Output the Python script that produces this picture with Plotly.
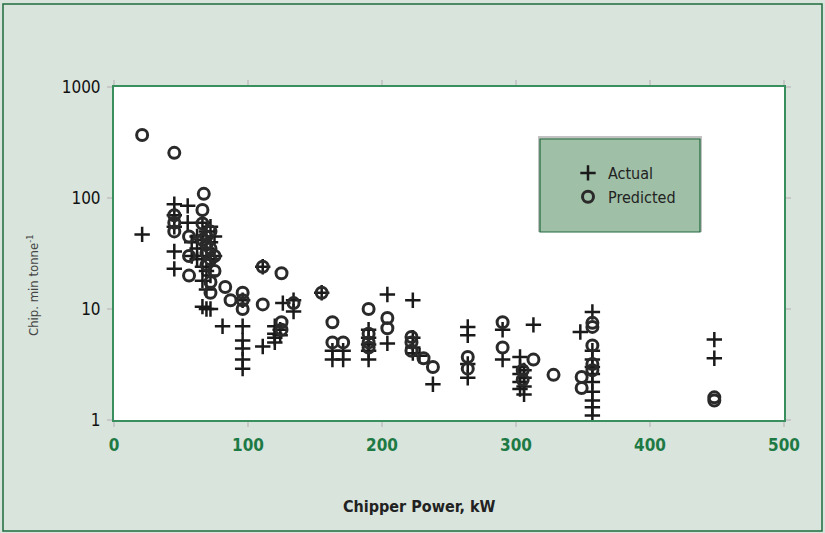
import plotly.graph_objects as go

# ---- data ----
actual_x = [21,
            45, 45, 45, 45, 45,
            55, 55, 58, 58,
            62, 62, 62,
            66, 66, 66, 66, 66, 66,
            69, 69, 69, 69, 69,
            72, 72, 72, 72, 72,
            75, 75,
            81,
            96, 96, 96, 96, 96, 96,
            111, 111,
            120, 120, 120, 120, 124, 124, 126,
            134, 134,
            155,
            163, 163, 171, 171,
            190, 190, 190, 190, 190,
            204, 204,
            223, 223, 223, 223, 228, 238,
            264, 264, 264, 264,
            290, 290,
            303, 303, 303, 303, 303,
            306, 306, 306, 306,
            313,
            348,
            357, 357, 357, 357, 357, 357, 357, 357, 357, 357,
            448, 448]
actual_y = [47,
            88, 70, 55, 33, 23,
            85, 60, 40, 30,
            45, 35, 28,
            60, 42, 30, 24, 18, 10.5,
            50, 35, 22, 15, 10,
            55, 40, 28, 20, 10,
            45, 30,
            7,
            12, 7, 5.2, 4.4, 3.5, 2.9,
            24, 4.6,
            7, 6, 5.5, 5, 6.5, 5.8, 11.3,
            9.5, 12,
            14,
            4.2, 3.5, 4.2, 3.5,
            6.5, 5.5, 4.8, 4.2, 3.5,
            13.5, 4.9,
            12, 5.5, 4.5, 4, 3.8, 2.1,
            6.9, 5.8, 3.2, 2.4,
            6.5, 3.5,
            3.7, 3.0, 2.6, 2.2, 1.9,
            2.8, 2.4, 2.0, 1.7,
            7.2,
            6.2,
            9.4, 4.2, 3.5, 3.0, 2.6, 2.2, 1.8, 1.5, 1.3, 1.1,
            5.3, 3.6]

pred_x = [21, 45, 67,
          45, 45, 45,
          56, 56, 56,
          66, 66, 66,
          69, 69, 69, 69,
          72, 72, 72, 72, 72,
          75, 75,
          83, 87,
          96, 96, 96,
          111, 111,
          125, 125, 125,
          134,
          155,
          163, 163, 171,
          190, 190, 190, 190,
          204, 204,
          222, 222, 222, 231, 238,
          264, 264,
          290, 290,
          305, 305, 313, 328,
          349, 349,
          357, 357, 357, 357, 357,
          448, 448]
pred_y = [370, 255, 109,
          70, 60, 50,
          45, 30, 20,
          78, 59, 42,
          45, 38, 32, 25,
          50, 35, 28, 17.5, 14,
          30, 22,
          15.8, 12,
          14, 12, 10,
          24, 11,
          21, 7.6, 6.5,
          11.3,
          14,
          7.6, 5, 5,
          10, 6, 5, 4.5,
          8.3, 6.7,
          5.6, 5, 4.2, 3.6, 3.0,
          3.7, 2.9,
          7.6, 4.5,
          2.8, 2.3, 3.5, 2.55,
          2.44, 1.94,
          7.5, 6.9, 4.7, 3.2, 2.8,
          1.6, 1.5]

x_ticks = [0, 100, 200, 300, 400, 500]
y_ticks = [1, 10, 100, 1000]

# ---- styling ----
BG = "#d9e4dc"
GREEN = "#1e7a45"
NARROW = "DejaVu Sans Condensed, Liberation Sans Narrow, Roboto, sans-serif"

fig = go.Figure()
fig.add_trace(go.Scatter(
    x=actual_x, y=actual_y, mode="markers", name="Actual",
    marker=dict(symbol="cross-thin", size=11, color="#1a1a1a",
                line=dict(color="#1a1a1a", width=2.5))))
fig.add_trace(go.Scatter(
    x=pred_x, y=pred_y, mode="markers", name="Predicted",
    marker=dict(symbol="circle-open", size=11, color="#2a2a2a",
                line=dict(color="#2a2a2a", width=3))))

W, H = 825, 533
L, T = 114, 87
PW, PH = 670, 333
R, B = W - L - PW, H - T - PH

def px_to_paper(px, py):
    return (px - L) / PW, (T + PH - py) / PH

# outer border
x0, y1 = px_to_paper(3, 4)
x1, y0 = px_to_paper(822, 531)
fig.add_shape(type="rect", xref="paper", yref="paper", x0=x0, x1=x1, y0=y0, y1=y1,
              line=dict(color="#1f6b3c", width=1.5), fillcolor="rgba(0,0,0,0)", layer="below")

# legend box with shadow
sx0, sy1 = px_to_paper(538, 136)
sx1, sy0 = px_to_paper(702, 232)
fig.add_shape(type="rect", xref="paper", yref="paper", x0=sx0, x1=sx1, y0=sy0, y1=sy1,
              line=dict(width=0), fillcolor="rgba(120,120,120,0.45)", layer="above")
bx0, by1 = px_to_paper(540, 139)
bx1, by0 = px_to_paper(700, 232)
fig.add_shape(type="rect", xref="paper", yref="paper", x0=bx0, x1=bx1, y0=by0, y1=by1,
              line=dict(color="#1f6b3c", width=1.2), fillcolor="#a0bfa7", layer="above")

lx, ly = px_to_paper(568, 156)

# axis titles (placed where the reference has them)
tx, ty = px_to_paper(419, 506)
fig.add_annotation(text="Chipper Power, kW", xref="paper", yref="paper", x=tx, y=ty,
                   showarrow=False, xanchor="center", yanchor="middle",
                   font=dict(family=NARROW, size=16, color="#222", weight="bold"))
yx, yy = px_to_paper(33, 286)
fig.add_annotation(text="Chip. min tonne<sup>-1</sup>", xref="paper", yref="paper", x=yx, y=yy,
                   showarrow=False, xanchor="center", yanchor="middle", textangle=-90,
                   font=dict(family=NARROW, size=13, color="#444"))

fig.update_layout(
    width=W, height=H,
    margin=dict(l=L, r=R, t=T, b=B),
    paper_bgcolor=BG, plot_bgcolor="white",
    showlegend=True,
    legend=dict(x=lx, y=ly, xanchor="left", yanchor="top",
                bgcolor="rgba(0,0,0,0)", borderwidth=0,
                font=dict(family=NARROW, size=16, color="#222"),
                itemwidth=30, tracegroupgap=2),
    xaxis=dict(range=[0, 500], tickvals=x_ticks, ticktext=[str(v) for v in x_ticks],
               showgrid=False, zeroline=False,
               showline=True, linecolor="#3a8f5e", linewidth=2, mirror="ticks",
               ticks="outside", ticklen=5, tickcolor="#c8c8c8", tickwidth=1.5,
               ticklabelstandoff=4,
               tickfont=dict(family=NARROW, size=17, color=GREEN, weight="bold")),
    yaxis=dict(type="log", range=[0, 3], tickvals=y_ticks, ticktext=[str(v) for v in y_ticks],
               showgrid=False, zeroline=False,
               showline=True, linecolor="#3a8f5e", linewidth=2, mirror="ticks",
               ticks="outside", ticklen=5, tickcolor="#c8c8c8", tickwidth=1.5,
               ticklabelstandoff=3,
               tickfont=dict(family=NARROW, size=17, color="#111")),
)

fig.write_html("out.html",
               config={"displayModeBar": False},
               post_script="document.body.style.margin='0';"
                           "document.body.style.background='" + BG + "';")
